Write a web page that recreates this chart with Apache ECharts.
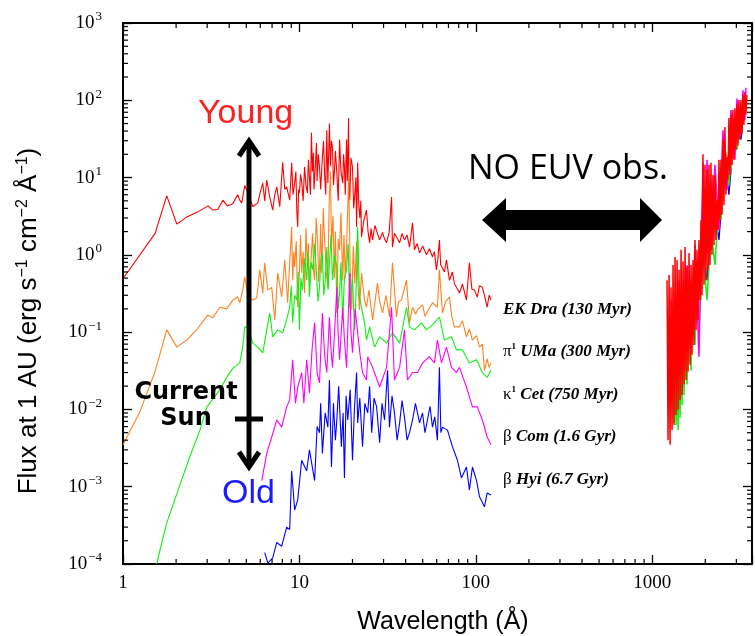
<!DOCTYPE html>
<html>
<head>
<meta charset="utf-8">
<title>XUV spectra of solar analogs</title>
<script src="https://cdn.jsdelivr.net/npm/echarts@6/dist/echarts.min.js"></script>
<style>
  html, body { margin: 0; padding: 0; background: #fff; }
  #chart { width: 755px; height: 636px; }
</style>
</head>
<body>
<div id="chart"></div>
<script>
// wavelength (A), flux at 1 AU (erg s-1 cm-2 A-1)
var ekDra = [[1,0.49],[1.52,1.9],[1.77,5.8],[2.02,2.5],[2.30,3.1],[2.66,3.6],[3.03,4.3],[3.23,3.8],[3.45,3.9],[3.68,5.1],[3.9,4.3],[4.19,4.6],[4.47,6.0],[4.59,5.1],[4.71,4.7],[4.90,7.9],[5.03,6.9],[5.23,5.5],[5.44,4.2],[5.81,4.7],[6.0,6.5],[6.20,8.5],[6.36,5.0],[6.53,9.3],[6.79,5.6],[7.06,3.8],[7.25,6.0],[7.44,7.6],[7.74,4.2],[8.04,15.8],[8.26,7.0],[8.47,7.6],[8.81,5.1],[9.04,15.5],[9.2,6],[9.40,8.5],[9.55,12],[9.66,4.0],[9.78,2.3],[9.9,7],[10.0,6.3],[10.15,11],[10.3,9.0],[10.5,5],[10.7,13.7],[10.9,8],[11.1,6.3],[11.25,17],[11.4,10.0],[11.55,6],[11.7,38],[11.85,12],[12.0,21],[12.1,7],[12.2,9.5],[12.35,16],[12.5,28],[12.6,9],[12.8,20],[13.0,13.7],[13.2,7],[13.5,18.5],[13.7,30],[13.9,11],[14.1,6],[14.3,41],[14.5,8.5],[14.65,20],[14.8,50],[15.0,14],[15.2,30],[15.4,25],[15.6,8],[15.8,12],[16.0,22],[16.3,11.5],[16.6,5],[16.9,31],[17.2,12],[17.6,8.5],[17.8,20],[18.0,14],[18.2,6],[18.5,31],[18.7,9],[19.0,59],[19.1,7],[19.3,5.1],[19.6,18],[20.0,13.7],[20.3,4],[20.6,6],[20.9,10],[21.1,2.3],[21.4,15.5],[21.7,4.5],[22.0,3.0],[22.3,5],[22.5,1.7],[23.2,2.8],[24.0,3.8],[24.5,2.0],[25.0,1.43],[25.5,2.2],[26.0,1.56],[26.8,2.4],[27.7,1.9],[28.5,1.56],[29.6,1.95],[30.4,1.6],[31.2,1.43],[32.3,2.0],[33.3,5.6],[33.7,1.26],[34.6,1.9],[35.5,1.7],[37.0,1.43],[38.2,1.9],[39.4,1.56],[40.8,1.8],[42.1,1.26],[43.8,2.6],[44.9,1.16],[46.5,1.4],[48.0,1.06],[50.0,1.3],[52.5,1.0],[54.6,1.2],[56.8,0.94],[58.3,1.1],[59.8,0.64],[61.0,0.9],[62.2,1.56],[63.2,0.75],[64.7,0.79],[66.4,0.6],[68.2,0.86],[70.9,0.47],[73.7,0.6],[75.7,0.42],[77.7,0.38],[80.8,0.32],[84.0,0.42],[88.5,0.26],[92.0,0.79],[95.0,0.36],[98.2,0.35],[102,0.285],[105,0.4],[109,0.38],[112,0.3],[116,0.21],[119,0.3],[122,0.26]];
var piUMa = [[1,0.0035],[1.25,0.0095],[1.52,0.031],[1.77,0.107],[2.02,0.064],[2.30,0.079],[2.66,0.113],[3.03,0.167],[3.23,0.153],[3.54,0.21],[3.87,0.20],[4.19,0.26],[4.47,0.285],[4.59,0.24],[4.77,0.35],[4.90,0.52],[5.1,0.3],[5.44,0.26],[5.73,0.277],[5.96,0.64],[6.20,0.32],[6.36,0.79],[6.62,0.35],[6.97,0.38],[7.25,0.144],[7.54,0.58],[7.94,0.285],[8.26,0.86],[8.58,0.24],[8.81,0.8],[9.04,2.3],[9.16,0.47],[9.3,1.1],[9.40,0.70],[9.6,1.5],[9.78,0.21],[10.0,0.6],[10.15,1.8],[10.3,0.58],[10.5,1.1],[10.7,0.32],[10.9,2.2],[11.1,0.64],[11.25,1.4],[11.4,0.4],[11.7,1.06],[11.9,1.9],[12.05,0.6],[12.2,0.47],[12.45,3.0],[12.7,1.43],[12.85,0.45],[13.0,0.7],[13.2,2.5],[13.4,0.58],[13.65,4],[13.9,1.56],[14.2,0.6],[14.5,0.38],[14.65,2.0],[14.8,6.3],[15.0,12],[15.2,1.26],[15.5,3.2],[15.8,0.5],[16.0,2.0],[16.3,0.177],[16.6,1.6],[16.9,1.16],[17.2,3.5],[17.6,0.47],[17.9,1.8],[18.2,0.5],[18.5,1.26],[18.8,4],[19.0,10.8],[19.4,0.7],[19.8,0.194],[20.2,1.3],[20.6,0.43],[21.1,1.5],[21.5,0.4],[21.9,0.194],[22.5,0.58],[23.4,0.26],[24.0,0.21],[24.8,0.35],[26.0,0.144],[27.7,0.43],[28.5,0.25],[29.6,0.177],[31.0,0.3],[32.4,0.157],[33.7,0.79],[35.5,0.157],[36.5,0.25],[37.9,0.26],[40.5,0.47],[42.1,0.132],[43.8,0.21],[45.5,0.17],[46.7,0.194],[49.9,0.225],[51.5,0.16],[53.2,0.185],[56.8,0.24],[60.6,0.21],[62.2,0.64],[64.7,0.177],[67.5,0.25],[70.9,0.285],[73.0,0.16],[75.7,0.117],[80.8,0.117],[84.0,0.14],[88.5,0.087],[92.0,0.11],[95.7,0.079],[101,0.09],[105,0.064],[109,0.07],[112,0.032],[116,0.045],[119,0.035],[122,0.04]];
var kapCet = [[1.55,0.0001],[1.77,0.00034],[2.10,0.00105],[2.4,0.0025],[2.73,0.0054],[2.99,0.0108],[3.54,0.0179],[3.87,0.026],[4.19,0.034],[4.59,0.040],[4.77,0.064],[4.90,0.117],[5.10,0.113],[5.44,0.072],[5.81,0.064],[6.20,0.054],[6.53,0.107],[6.79,0.177],[7.06,0.087],[7.54,0.107],[8.04,0.098],[8.47,0.144],[8.81,0.21],[9.0,0.4],[9.16,0.132],[9.4,0.3],[9.66,0.26],[9.85,0.6],[10.0,0.107],[10.2,0.5],[10.4,0.35],[10.7,0.9],[11.0,0.47],[11.2,1.1],[11.4,0.285],[11.65,0.8],[11.9,0.64],[12.2,1.4],[12.5,0.58],[12.75,0.25],[13.0,0.38],[13.25,0.9],[13.5,1.06],[13.75,0.3],[14.0,0.45],[14.3,1.26],[14.55,0.35],[14.8,0.79],[15.1,1.8],[15.4,0.47],[15.8,1.0],[16.3,0.70],[16.6,0.2],[16.9,0.32],[17.2,0.8],[17.6,0.144],[18.0,0.5],[18.5,0.64],[18.9,1.4],[19.3,0.21],[20.0,0.5],[20.3,0.2],[20.6,0.107],[21.0,0.4],[21.4,2.3],[21.9,0.285],[23.4,0.132],[24.0,0.079],[25.0,0.117],[26.7,0.064],[28.5,0.087],[31.2,0.072],[33.7,0.098],[37.0,0.072],[40.5,0.21],[42.1,0.117],[44.9,0.107],[49.2,0.132],[52.5,0.107],[56.8,0.124],[62.2,0.157],[66.4,0.079],[72.8,0.087],[77.7,0.059],[84.0,0.059],[92.0,0.040],[101,0.044],[109,0.030],[116,0.026],[122,0.032]];
var betCom = [[6.12,0.0012],[6.53,0.0027],[6.97,0.0044],[7.44,0.0073],[7.94,0.0059],[8.47,0.0108],[8.81,0.0133],[9.16,0.044],[9.5,0.012],[9.78,0.0195],[10.3,0.03],[10.6,0.012],[11.0,0.044],[11.4,0.0163],[11.8,0.06],[12.2,0.132],[12.6,0.03],[13.0,0.022],[13.5,0.177],[13.9,0.05],[14.3,0.030],[14.8,0.157],[15.1,0.06],[15.4,0.035],[15.9,0.12],[16.3,0.38],[16.6,0.09],[16.9,0.044],[17.6,0.21],[18.0,0.08],[18.5,0.035],[18.9,0.15],[19.3,0.58],[19.6,0.1],[20.0,0.054],[20.7,0.2],[21.4,0.098],[22.1,0.05],[22.8,0.030],[24.0,0.024],[24.4,0.048],[26.0,0.035],[28.5,0.0195],[31.2,0.035],[33.3,0.21],[34.6,0.024],[37.0,0.035],[39.4,0.107],[41.0,0.024],[43.8,0.030],[46.7,0.030],[49.9,0.040],[54.6,0.048],[58.3,0.040],[60.6,0.079],[63.9,0.040],[68.2,0.064],[72.8,0.035],[77.7,0.030],[80.8,0.035],[88.5,0.0195],[95.7,0.0108],[102,0.0108],[109,0.0073],[116,0.0044],[122,0.0035]];
var betHyi = [[6.36,0.00014],[6.62,0.000103],[7.06,0.00012],[7.44,0.00019],[7.94,0.00017],[8.47,0.00030],[8.81,0.00028],[9.04,0.0016],[9.40,0.0005],[9.78,0.00067],[10.3,0.0022],[11.0,0.0016],[11.4,0.0030],[12.2,0.0012],[12.6,0.006],[13.0,0.0050],[13.2,0.012],[13.5,0.0027],[14.0,0.009],[14.5,0.0059],[14.8,0.024],[15.2,0.0018],[15.6,0.012],[16.0,0.004],[16.3,0.0073],[16.7,0.02],[17.3,0.0033],[17.7,0.009],[18.0,0.0013],[18.4,0.015],[18.8,0.0073],[19.4,0.018],[20.0,0.0022],[20.5,0.01],[21.1,0.030],[21.4,0.0067],[22.0,0.014],[22.8,0.0033],[23.5,0.012],[24.4,0.0090],[25.0,0.02],[25.7,0.0050],[26.5,0.014],[27.4,0.0108],[28.5,0.0037],[29.4,0.012],[30.4,0.0073],[31.6,0.032],[32.4,0.0059],[33.5,0.015],[34.6,0.0090],[35.8,0.004],[37.0,0.0067],[38.2,0.013],[39.4,0.0080],[40.8,0.004],[42.1,0.0050],[43.8,0.0073],[45.5,0.012],[48.0,0.0067],[49.9,0.0090],[51.5,0.005],[53.2,0.0073],[55.0,0.011],[56.8,0.0059],[58.5,0.008],[60.6,0.0040],[62.2,0.035],[63.4,0.005],[64.7,0.0059],[69.1,0.0054],[73.7,0.0033],[78.7,0.0022],[82.9,0.0013],[88.5,0.0018],[92.0,0.00091],[95.7,0.0018],[101,0.0012],[105,0.00074],[112,0.00055],[116,0.00083],[122,0.00078]];

// UV part (~1200-3400 A)
var ekDraUV = [[1214,0.47],[1230,0.0040],[1247,0.55],[1263,0.0035],[1279,0.38],[1296,0.0054],[1313,0.74],[1330,0.0063],[1348,0.94],[1366,0.0085],[1384,0.86],[1402,0.0099],[1420,0.64],[1439,0.0133],[1458,1.16],[1477,0.0154],[1496,0.82],[1516,0.021],[1536,1.26],[1556,0.024],[1576,0.70],[1597,0.031],[1618,1.06],[1639,0.038],[1660,0.74],[1682,0.051],[1704,0.86],[1726,0.068],[1749,1.56],[1772,0.107],[1795,1.16],[1818,0.144],[1842,1.56],[1866,0.26],[1891,2.8],[1916,0.30],[1941,20],[1966,0.41],[1992,14.6],[2018,0.47],[2045,12.5],[2072,0.64],[2099,14.6],[2126,0.74],[2154,15.5],[2182,1.0],[2211,10.8],[2240,1.34],[2269,10.8],[2299,1.56],[2329,5.1],[2360,2.1],[2391,17],[2422,2.8],[2454,17],[2486,3.3],[2519,31],[2552,4.4],[2585,45],[2619,6.0],[2653,18.5],[2688,9.3],[2723,59],[2759,10.8],[2795,65],[2832,14.6],[2869,75],[2907,17],[2945,79],[2984,23],[3023,89],[3063,26],[3102,101],[3143,31],[3184,101],[3226,36],[3268,117],[3311,48],[3354,128],[3398,65],[3443,117]];
var piUMaUV = [[1247,0.107],[1296,0.0133],[1348,0.144],[1402,0.0179],[1458,0.26],[1536,0.032],[1618,0.35],[1704,0.079],[1795,0.86],[1891,0.26],[1992,5.1],[2099,1.16],[2269,9.3],[2391,2.8],[2585,23],[2795,12.5],[3023,65],[3268,48]];
var kapCetUV = [[1313,0.024],[1330,0.0067],[1348,0.032],[1366,0.0063],[1384,0.044],[1402,0.0054],[1420,0.059],[1439,0.0078],[1458,0.068],[1477,0.0114],[1496,0.107],[1516,0.0154],[1536,0.144],[1576,0.021],[1618,0.194],[1660,0.032],[1704,0.26],[1749,0.068],[1795,0.47],[1842,0.107],[1941,1.16],[2045,0.26],[2154,2.1],[2269,0.74],[2391,5.1],[2454,2.8],[2585,12.5],[2723,8.0],[2869,31],[3023,23],[3184,65],[3354,56]];
var betComUV = [[1279,0.26],[1348,0.044],[1420,0.47],[1496,0.032],[1576,0.74],[1660,0.079],[1749,1.34],[1842,0.048],[1891,1.16],[1941,15.5],[1992,0.86],[2045,17],[2154,1.16],[2269,14.6],[2391,2.1],[2519,41],[2653,6.9],[2795,75],[2945,17],[3023,105],[3184,36],[3268,135],[3354,56],[3398,145]];
var betHyiUV = [[1279,0.144],[1348,0.0179],[1420,0.26],[1496,0.032],[1618,0.47],[1749,0.107],[1891,1.16],[2045,0.47],[2211,5.1],[2391,1.56],[2585,17],[2723,6.0],[2945,48],[3184,31],[3354,101]];

var xMin = 1, xMax = 3680, yMin = 1e-4, yMax = 1e3;
var xTickLabels = ['1', '10', '100', '1000'];

// minor tick positions (2..9 x 10^n) on both log axes
var minorTicks = [];
for (var p = 0; p <= 3; p++) {
  for (var m = 2; m <= 9; m++) {
    var v = m * Math.pow(10, p);
    if (v < xMax) minorTicks.push([v, 1, 0]);
  }
}
for (var q = -4; q <= 2; q++) {
  for (var k = 2; k <= 9; k++) minorTicks.push([1, k * Math.pow(10, q), 1]);
}

var serif = '"Liberation Serif", "Times New Roman", serif';
var sans = '"Liberation Sans", Arial, sans-serif';

function spec(data, color, width) {
  return {
    type: 'line', data: data, symbol: 'none', showSymbol: false, silent: true,
    lineStyle: { color: color, width: width }, itemStyle: { color: color }
  };
}

var chart = echarts.init(document.getElementById('chart'));

function axisCommon(pos, showLabel) {
  return {
    type: 'log', logBase: 10, position: pos,
    axisLine: { show: true, onZero: false, lineStyle: { color: '#000', width: 2 } },
    axisTick: { show: true, inside: true, length: 9, lineStyle: { color: '#000', width: 1.3 } },
    splitLine: { show: false },
    axisLabel: { show: showLabel }
  };
}

var xBottom = axisCommon('bottom', true);
xBottom.min = xMin; xBottom.max = xMax;
xBottom.axisLabel = {
  show: true, margin: 10, color: '#000', fontFamily: serif, fontSize: 19,
  formatter: function (v) {
    var e = Math.round(Math.log10(v));
    var lbl = xTickLabels[e];
    return (Math.abs(Math.log10(v) - e) < 1e-6 && lbl) ? lbl : '';
  }
};
var xTop = axisCommon('top', false);
xTop.min = xMin; xTop.max = xMax;

var yLeft = axisCommon('left', true);
yLeft.min = yMin; yLeft.max = yMax;
yLeft.axisLabel = {
  show: true, margin: 21, color: '#000',
  formatter: function (v) {
    var e = Math.round(Math.log10(v));
    return '{b|10}{s|' + (e < 0 ? '\u2212' + (-e) : e) + '}';
  },
  rich: {
    b: { fontFamily: serif, fontSize: 19, color: '#000' },
    s: { fontFamily: serif, fontSize: 13, color: '#000', padding: [0, 0, 12, 1] }
  }
};
var yRight = axisCommon('right', false);
yRight.min = yMin; yRight.max = yMax;

var option = {
  animation: false,
  backgroundColor: '#fff',
  grid: { left: 123, right: 2, top: 23, bottom: 72, containLabel: false },
  xAxis: [xBottom, xTop],
  yAxis: [yLeft, yRight],
  series: [
    spec(ekDra, '#ff0000', 1.1),
    spec(piUMa, '#ff8320', 1.1),
    spec(kapCet, '#10f010', 1.1),
    spec(betCom, '#ff00ff', 1.1),
    spec(betHyi, '#0000ff', 1.1),
    spec(betHyiUV, '#0000ff', 1.3),
    spec(piUMaUV, '#ff8320', 1.3),
    spec(kapCetUV, '#10f010', 1.5),
    spec(betComUV, '#ff00ff', 1.5),
    spec(ekDraUV, '#ff0000', 1.5),
    {
      type: 'custom', data: minorTicks, silent: true, clip: false, z: 10,
      renderItem: function (params, api) {
        var cs = params.coordSys, L = 5;
        var st = { stroke: '#000', lineWidth: 1.2 };
        if (api.value(2) === 0) {
          var x = api.coord([api.value(0), 1])[0];
          return { type: 'group', children: [
            { type: 'line', shape: { x1: x, y1: cs.y + cs.height, x2: x, y2: cs.y + cs.height - L }, style: st },
            { type: 'line', shape: { x1: x, y1: cs.y, x2: x, y2: cs.y + L }, style: st }
          ] };
        }
        var y = api.coord([1, api.value(1)])[1];
        return { type: 'group', children: [
          { type: 'line', shape: { x1: cs.x, y1: y, x2: cs.x + L, y2: y }, style: st },
          { type: 'line', shape: { x1: cs.x + cs.width, y1: y, x2: cs.x + cs.width - L, y2: y }, style: st }
        ] };
      }
    }
  ],
  graphic: [
    // axis titles
    { type: 'text', x: 29, y: 321, rotation: Math.PI / 2, z: 100,
      style: { text: '{n|Flux at 1 AU (erg s}{s|\u22121}{n| cm}{s|\u22122}{n| \u00c5}{s|\u22121}{n|)}',
        align: 'center', verticalAlign: 'middle', textAlign: 'center', textVerticalAlign: 'middle',
        rich: { n: { fontFamily: sans, fontSize: 26, color: '#000' },
                s: { fontFamily: sans, fontSize: 16, color: '#000', padding: [0, 0, 12, 0] } } } },
    { type: 'text', x: 443, y: 622, z: 100,
      style: { text: 'Wavelength (\u00c5)', font: '25px ' + sans, fill: '#000',
        align: 'center', verticalAlign: 'middle', textAlign: 'center', textVerticalAlign: 'middle' } },
    // Young / Old arrow
    { type: 'text', x: 198, y: 114, z: 100,
      style: { text: 'Young', font: '34px ' + sans, fill: '#ff2020', align: 'left', verticalAlign: 'middle', textAlign: 'left', textVerticalAlign: 'middle' } },
    { type: 'text', x: 222, y: 494, z: 100,
      style: { text: 'Old', font: '34px ' + sans, fill: '#1a1aff', align: 'left', verticalAlign: 'middle', textAlign: 'left', textVerticalAlign: 'middle' } },
    { type: 'line', z: 100, shape: { x1: 249, y1: 142, x2: 249, y2: 465 }, style: { stroke: '#000', lineWidth: 5 } },
    { type: 'polyline', z: 100, shape: { points: [[239, 156], [249, 141], [259, 156]] }, style: { stroke: '#000', lineWidth: 5, fill: null } },
    { type: 'polyline', z: 100, shape: { points: [[239, 452], [249, 467], [259, 452]] }, style: { stroke: '#000', lineWidth: 5, fill: null } },
    { type: 'line', z: 100, shape: { x1: 235, y1: 419, x2: 263, y2: 419 }, style: { stroke: '#000', lineWidth: 5 } },
    { type: 'text', x: 186, y: 393, z: 100,
      style: { text: 'Current', font: 'bold 24px "DejaVu Sans", sans-serif', fill: '#000', align: 'center', verticalAlign: 'middle', textAlign: 'center', textVerticalAlign: 'middle' } },
    { type: 'text', x: 186, y: 419, z: 100,
      style: { text: 'Sun', font: 'bold 24px "DejaVu Sans", sans-serif', fill: '#000', align: 'center', verticalAlign: 'middle', textAlign: 'center', textVerticalAlign: 'middle' } },
    // no EUV observations
    { type: 'text', x: 468, y: 169, z: 100,
      style: { text: 'NO EUV obs.', font: '34px "Open Sans", sans-serif', fill: '#000', align: 'left', verticalAlign: 'middle', textAlign: 'left', textVerticalAlign: 'middle' } },
    { type: 'polygon', z: 100,
      shape: { points: [[482, 220], [506, 198], [506, 210], [640, 210], [640, 198], [662, 220], [640, 242], [640, 230], [506, 230], [506, 242]] },
      style: { fill: '#000' } },
    // star labels
    { type: 'text', x: 503, y: 310, z: 100,
      style: { text: '{i|EK Dra (130 Myr)}', align: 'left', verticalAlign: 'middle', textAlign: 'left', textVerticalAlign: 'middle',
        rich: { i: { fontFamily: serif, fontSize: 17, fontStyle: 'italic', fontWeight: 'bold', color: '#111' } } } },
    { type: 'text', x: 503, y: 352, z: 100,
      style: { text: '{g|\u03c0}{s|1}{i| UMa (300 Myr)}', align: 'left', verticalAlign: 'middle', textAlign: 'left', textVerticalAlign: 'middle',
        rich: { g: { fontFamily: serif, fontSize: 17, color: '#111' },
                s: { fontFamily: serif, fontSize: 9, fontWeight: 'bold', color: '#111', padding: [0, 0, 10, 0] },
                i: { fontFamily: serif, fontSize: 17, fontStyle: 'italic', fontWeight: 'bold', color: '#111' } } } },
    { type: 'text', x: 503, y: 395, z: 100,
      style: { text: '{g|\u03ba}{s|1}{i| Cet (750 Myr)}', align: 'left', verticalAlign: 'middle', textAlign: 'left', textVerticalAlign: 'middle',
        rich: { g: { fontFamily: serif, fontSize: 17, color: '#111' },
                s: { fontFamily: serif, fontSize: 9, fontWeight: 'bold', color: '#111', padding: [0, 0, 10, 0] },
                i: { fontFamily: serif, fontSize: 17, fontStyle: 'italic', fontWeight: 'bold', color: '#111' } } } },
    { type: 'text', x: 503, y: 437, z: 100,
      style: { text: '{g|\u03b2 }{i|Com (1.6 Gyr)}', align: 'left', verticalAlign: 'middle', textAlign: 'left', textVerticalAlign: 'middle',
        rich: { g: { fontFamily: serif, fontSize: 17, color: '#111' },
                i: { fontFamily: serif, fontSize: 17, fontStyle: 'italic', fontWeight: 'bold', color: '#111' } } } },
    { type: 'text', x: 503, y: 480, z: 100,
      style: { text: '{g|\u03b2 }{i|Hyi (6.7 Gyr)}', align: 'left', verticalAlign: 'middle', textAlign: 'left', textVerticalAlign: 'middle',
        rich: { g: { fontFamily: serif, fontSize: 17, color: '#111' },
                i: { fontFamily: serif, fontSize: 17, fontStyle: 'italic', fontWeight: 'bold', color: '#111' } } } }
  ]
};

chart.setOption(option);
</script>
</body>
</html>
